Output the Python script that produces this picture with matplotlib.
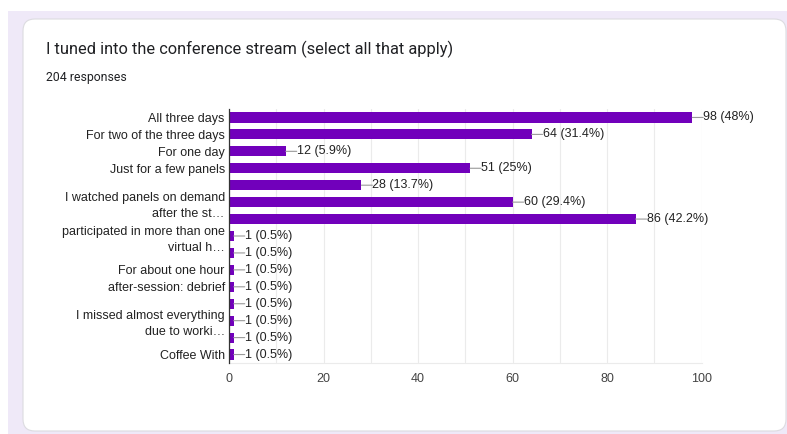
import matplotlib.pyplot as plt
from matplotlib.patches import FancyBboxPatch, Rectangle
import numpy as np

# === Data ===
title = "I tuned into the conference stream (select all that apply)"
total_responses = 204
categories = [
    "All three days",
    "For two of the three days",
    "For one day",
    "Just for a few panels",
    "",
    "I watched panels on demand\nafter the st…",
    "",
    "participated in more than one\nvirtual h…",
    "",
    "For about one hour",
    "after-session: debrief",
    "",
    "I missed almost everything\ndue to worki…",
    "",
    "Coffee With",
]
counts = [98, 64, 12, 51, 28, 60, 86, 1, 1, 1, 1, 1, 1, 1, 1]
x_ticks = [0, 20, 40, 60, 80, 100]

# === Style ===
bar_color = "#7100bb"
lavender = "#efe9f8"
text_color = "#222222"
W, H = 787, 434

fig = plt.figure(figsize=(W / 100, H / 100), dpi=100)
fig.patch.set_facecolor("white")

def px_rect(x0, y0, x1, y1):
    """pixel box (top-left origin) -> figure fraction (x, y, w, h)"""
    return x0 / W, 1 - y1 / H, (x1 - x0) / W, (y1 - y0) / H

# lavender page background + white card
x, y, w, h = px_rect(8, 11, W, H)
fig.patches.append(Rectangle((x, y), w, h, transform=fig.transFigure,
                             facecolor=lavender, edgecolor="none", zorder=0))
x, y, w, h = px_rect(23, 19, 786, 431)
fig.patches.append(FancyBboxPatch((x, y), w, h, boxstyle="round,pad=0,rounding_size=0.015",
                                  transform=fig.transFigure, facecolor="white",
                                  edgecolor="#dcdce0", linewidth=0.8, zorder=1,
                                  mutation_aspect=W / H))

fig.text(46 / W, 1 - 49 / H, title, fontsize=11.8, family="Roboto",
         color="#202124", va="center", ha="left")
fig.text(46 / W, 1 - 78 / H, f"{total_responses} responses", fontsize=8.8,
         family="Roboto", color="#202124", va="center", ha="left")

# === Bar chart ===
ax = fig.add_axes(px_rect(229, 109, 701.7, 363))
ax.set_zorder(2)
ax.patch.set_alpha(0)

ypos = np.arange(len(counts))
ax.barh(ypos, counts, height=0.6, color=bar_color, zorder=3)

# value labels with a short leader line
for yi, v in zip(ypos, counts):
    pct = round(v / total_responses * 100, 1)
    ax.annotate("", xy=(v, yi), xytext=(11, 0), textcoords="offset pixels",
                arrowprops=dict(arrowstyle="-", color="#999999", lw=0.8,
                                shrinkA=0, shrinkB=0), zorder=4)
    ax.annotate(f"{v} ({pct:g}%)", xy=(v, yi), xytext=(11, 0),
                textcoords="offset pixels", va="center", ha="left",
                fontsize=9, family="Liberation Sans", color=text_color, zorder=4)

ax.set_xlim(0, 100)
ax.set_ylim(len(counts) - 0.5, -0.5)
ax.set_yticks(ypos)
ax.set_yticklabels(categories, fontsize=9, family="Liberation Sans",
                   color=text_color, linespacing=1.45)
ax.set_xticks(x_ticks)
ax.set_xticklabels([str(t) for t in x_ticks], fontsize=9,
                   family="Liberation Sans", color="#444444")
ax.set_xticks(np.arange(10, 100, 20), minor=True)
ax.tick_params(axis="both", which="both", length=0)
ax.tick_params(axis="y", pad=3)
ax.tick_params(axis="x", pad=7)
ax.grid(axis="x", which="both", color="#ebebeb", linewidth=0.8, zorder=0)

for side in ["top", "right"]:
    ax.spines[side].set_visible(False)
ax.spines["bottom"].set_color("#ebebeb")
ax.spines["left"].set_color("#333333")
ax.spines["left"].set_linewidth(0.9)
ax.spines["left"].set_zorder(5)

fig.savefig("out.png", dpi=100)
